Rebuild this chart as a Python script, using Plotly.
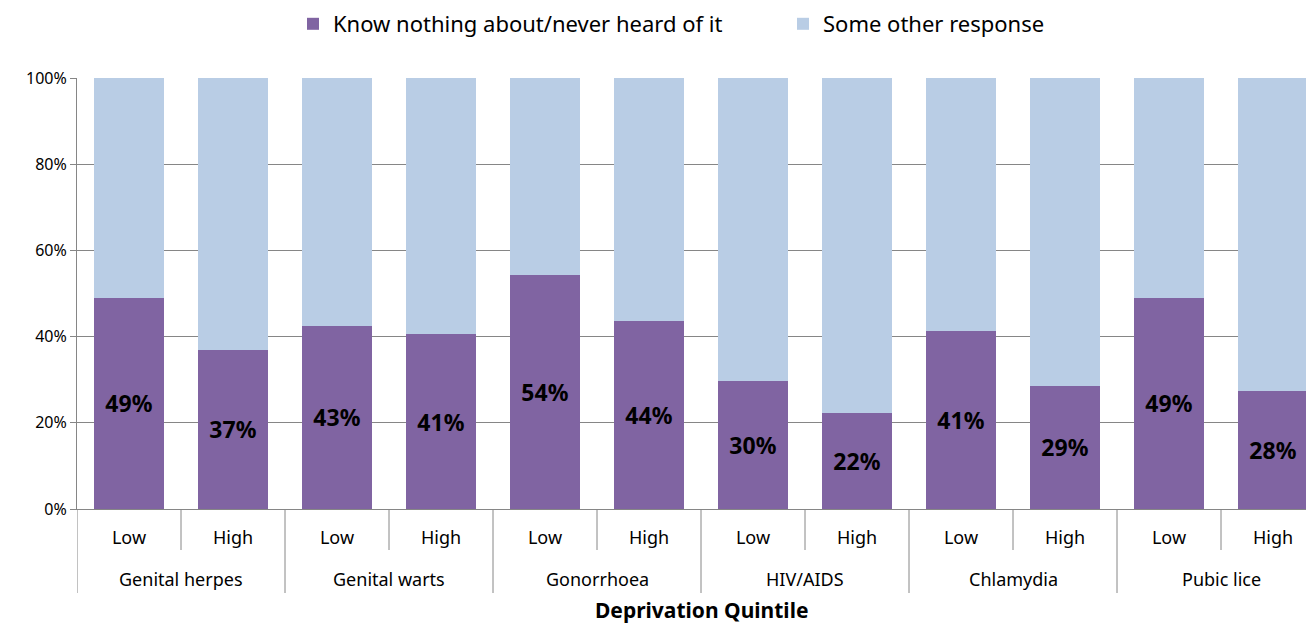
import plotly.graph_objects as go

diseases = ["Genital herpes", "Genital warts", "Gonorrhoea", "HIV/AIDS", "Chlamydia", "Pubic lice"]
quintiles = ["Low", "High"]
know_nothing = [0.49, 0.37, 0.425, 0.405, 0.543, 0.436, 0.297, 0.223, 0.413, 0.286, 0.49, 0.274]
know_labels = ["49%", "37%", "43%", "41%", "54%", "44%", "30%", "22%", "41%", "29%", "49%", "28%"]
other = [1 - v for v in know_nothing]

inner = [q for _ in diseases for q in quintiles]
xpos = list(range(len(inner)))

FONT = "Noto Sans"
LINE = "#868686"
W, H = 1306, 617   # page has an 8px body margin, keep the figure inside the window
PLOT_H = 431       # plot area height in px, used to place things below the axis
CAT_W = 104        # px per category in the original; its right edge runs off the image
PLOT_W = W - 69 - 1

fig = go.Figure()
fig.add_trace(go.Bar(
    x=xpos, y=know_nothing, name="Know nothing about/never heard of it",
    marker=dict(color="#8064A2", line=dict(width=0)),
    text=know_labels, textposition="inside", insidetextanchor="middle",
    textfont=dict(family=FONT, size=23, color="black", weight="bold"),
    textangle=0,
))
fig.add_trace(go.Bar(
    x=xpos, y=other, name="Some other response",
    marker=dict(color="#B9CDE5", line=dict(width=0)),
    hoverinfo="skip",
))

# separators below the axis: short ones inside a group, long ones between groups
shapes = []
for k in range(len(diseases)):
    shapes.append(dict(type="line", xref="x", yref="paper", x0=2 * k + 0.5, x1=2 * k + 0.5,
                       y0=0, y1=-41 / PLOT_H, line=dict(color=LINE, width=1)))
for k in range(len(diseases)):
    shapes.append(dict(type="line", xref="x", yref="paper", x0=2 * k - 0.5, x1=2 * k - 0.5,
                       y0=0, y1=-84 / PLOT_H, line=dict(color=LINE, width=1)))

annotations = []
for k, d in enumerate(diseases):
    annotations.append(dict(text=d, xref="x", yref="paper", x=2 * k + 0.5, y=-70 / PLOT_H,
                            showarrow=False, yanchor="middle", font=dict(size=18)))
annotations.append(dict(text="<b>Deprivation Quintile</b>", xref="paper", yref="paper",
                        x=(701 - 77) / PLOT_W, y=-101 / PLOT_H, showarrow=False,
                        yanchor="middle", font=dict(size=21)))

fig.update_layout(
    barmode="stack",
    bargap=0.32,
    width=W, height=H,
    margin=dict(l=69, r=1, t=70, b=H - 70 - PLOT_H, autoexpand=False),
    plot_bgcolor="white", paper_bgcolor="white",
    font=dict(family=FONT, size=16, color="black"),
    legend=dict(orientation="h", x=(312 - 77 - 19) / PLOT_W, xanchor="left", yref="container",
                y=1 - 16 / H, yanchor="middle", entrywidth=445,
                font=dict(size=22), traceorder="normal"),
    shapes=shapes,
    annotations=annotations,
    xaxis=dict(
        range=[-0.5, -0.5 + PLOT_W / CAT_W], tickvals=xpos, ticktext=inner,
        showline=True, linecolor=LINE, linewidth=1,
        ticks="", ticklabelstandoff=12,
        tickfont=dict(size=18), showgrid=False, zeroline=False,
        automargin=False,
    ),
    yaxis=dict(
        range=[0, 1], tickvals=[0, 0.2, 0.4, 0.6, 0.8, 1.0],
        tickformat=".0%",
        showgrid=True, gridcolor=LINE, gridwidth=1,
        showline=True, linecolor=LINE, linewidth=1,
        ticks="outside", ticklen=6, tickcolor=LINE,
        tickfont=dict(size=16),
        zeroline=False, automargin=False,
    ),
)

fig.write_html("out.html")
